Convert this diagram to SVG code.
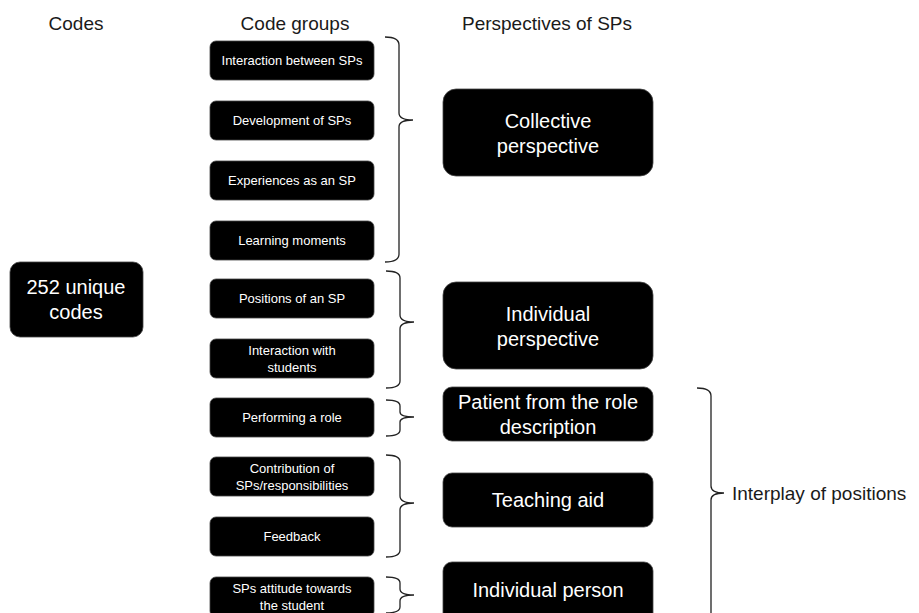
<svg xmlns="http://www.w3.org/2000/svg" width="919" height="613" viewBox="0 0 919 613">
<style>
.hdr{font-family:"Liberation Sans",Arial,sans-serif;font-size:19px;fill:#1a1a1a;text-anchor:middle}
.sb{fill:#000;stroke:#444;stroke-width:0.8}
.st{font-family:"Liberation Sans",Arial,sans-serif;font-size:13px;fill:#fff;text-anchor:middle}
.bt{font-family:"Liberation Sans",Arial,sans-serif;font-size:20px;fill:#fff;text-anchor:middle}
.br{fill:none;stroke:#222;stroke-width:1.3}
.lbl{font-family:"Liberation Sans",Arial,sans-serif;font-size:19px;fill:#1a1a1a}
</style>
<rect width="919" height="613" fill="#fff"/>
<text class="hdr" x="76" y="30">Codes</text>
<text class="hdr" x="295" y="30">Code groups</text>
<text class="hdr" x="547" y="30">Perspectives of SPs</text>

<g id="codes"><rect class="sb" x="10" y="262" width="133" height="75" rx="10"/><text class="bt" x="76" y="294">252 unique</text><text class="bt" x="76" y="319">codes</text></g>

<g id="g1"><rect class="sb" x="210" y="41" width="164" height="39" rx="6"/><text class="st" x="292" y="65">Interaction between SPs</text></g>
<g id="g2"><rect class="sb" x="210" y="101" width="164" height="39" rx="6"/><text class="st" x="292" y="125">Development of SPs</text></g>
<g id="g3"><rect class="sb" x="210" y="161" width="164" height="39" rx="6"/><text class="st" x="292" y="185">Experiences as an SP</text></g>
<g id="g4"><rect class="sb" x="210" y="221" width="164" height="39" rx="6"/><text class="st" x="292" y="245">Learning moments</text></g>
<g id="g5"><rect class="sb" x="210" y="279" width="164" height="39" rx="6"/><text class="st" x="292" y="303">Positions of an SP</text></g>
<g id="g6"><rect class="sb" x="210" y="339" width="164" height="39" rx="6"/><text class="st" x="292" y="355">Interaction with</text><text class="st" x="292" y="372">students</text></g>
<g id="g7"><rect class="sb" x="210" y="398" width="164" height="39" rx="6"/><text class="st" x="292" y="422">Performing a role</text></g>
<g id="g8"><rect class="sb" x="210" y="457" width="164" height="39" rx="6"/><text class="st" x="292" y="473">Contribution of</text><text class="st" x="292" y="490">SPs/responsibilities</text></g>
<g id="g9"><rect class="sb" x="210" y="517" width="164" height="39" rx="6"/><text class="st" x="292" y="541">Feedback</text></g>
<g id="g10"><rect class="sb" x="210" y="577" width="164" height="40" rx="6"/><text class="st" x="292" y="593">SPs attitude towards</text><text class="st" x="292" y="610">the student</text></g>

<g id="p1"><rect class="sb" x="443" y="89" width="210" height="87" rx="13"/><text class="bt" x="548" y="128">Collective</text><text class="bt" x="548" y="153">perspective</text></g>
<g id="p2"><rect class="sb" x="443" y="282" width="210" height="87" rx="13"/><text class="bt" x="548" y="321">Individual</text><text class="bt" x="548" y="346">perspective</text></g>
<g id="p3"><rect class="sb" x="443" y="387" width="210" height="54" rx="9"/><text class="bt" x="548" y="409">Patient from the role</text><text class="bt" x="548" y="434">description</text></g>
<g id="p4"><rect class="sb" x="443" y="473" width="210" height="54" rx="9"/><text class="bt" x="548" y="507">Teaching aid</text></g>
<g id="p5"><rect class="sb" x="443" y="562" width="210" height="60" rx="9"/><text class="bt" x="548" y="597">Individual person</text></g>

<g id="connectors">
<path class="br" d="M385,37 Q399,37 399,45 L399,113 Q399,120 413,120 Q399,120 399,127 L399,254 Q399,262 385,262"/>
<path class="br" d="M386,271 Q400,271 400,278 L400,315 Q400,322 414,322 Q400,322 400,329 L400,381 Q400,388 386,388"/>
<path class="br" d="M386,400 Q400,400 400,406 L400,412 Q400,417 414,417 Q400,417 400,422 L400,430 Q400,436 386,436"/>
<path class="br" d="M386,455 Q400,455 400,462 L400,496 Q400,503 414,503 Q400,503 400,510 L400,550 Q400,557 386,557"/>
<path class="br" d="M386,577 Q400,577 400,583 L400,589 Q400,595 414,595 Q400,595 400,601 L400,607 Q400,613 386,613"/>
<path class="br" d="M697,388 Q711,388 711,396 L711,486 Q711,493 724,493 Q711,493 711,500 L711,620"/>
</g>
<text class="lbl" x="732" y="500">Interplay of positions</text>
</svg>
